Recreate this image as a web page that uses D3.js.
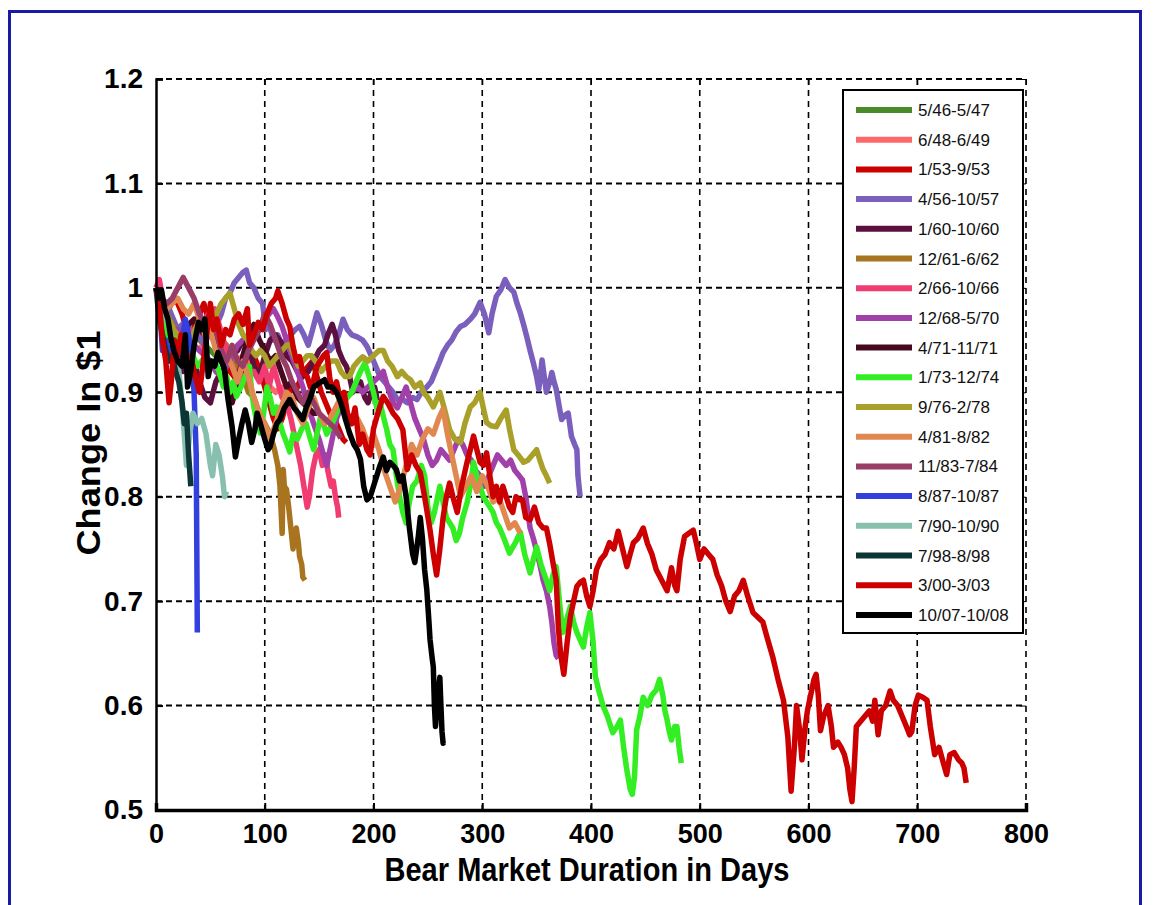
<!DOCTYPE html>
<html>
<head>
<meta charset="utf-8">
<script src="https://cdn.jsdelivr.net/npm/d3@7"></script>
<style>
  body { margin: 0; background: #fff; }
  text { font-family: "Liberation Sans", Arial, sans-serif; }
</style>
</head>
<body>
<div id="chart"></div>
<script>
// legend labels + colours, in plot order (last one drawn on top)
const labels = ['5/46-5/47', '6/48-6/49', '1/53-9/53', '4/56-10/57', '1/60-10/60', '12/61-6/62',
  '2/66-10/66', '12/68-5/70', '4/71-11/71', '1/73-12/74', '9/76-2/78', '4/81-8/82',
  '11/83-7/84', '8/87-10/87', '7/90-10/90', '7/98-8/98', '3/00-3/03', '10/07-10/08'];
const colors = ['#4a8a28', '#ff6868', '#cc0000', '#7b5fbd', '#5c1040', '#a87420',
  '#f03c70', '#a040a8', '#480820', '#33ee22', '#a8a028', '#e08850',
  '#983c68', '#3340e0', '#88c0b0', '#0c3535', '#cc0000', '#000000'];

const xTicks = [0, 100, 200, 300, 400, 500, 600, 700, 800];
const yTicks = [0.5, 0.6, 0.7, 0.8, 0.9, 1, 1.1, 1.2];

// [day, value of $1]
const s5_46 = [[0,1.0],[4,0.99],[8,0.98],[12,0.975],[16,0.965],[20,0.96],[25,0.955],[30,0.95],[35,0.955],[40,0.95],[45,0.945],[50,0.94],[55,0.935],[60,0.94],[65,0.935],[70,0.93],[75,0.925],[80,0.93],[85,0.925],[90,0.92],[95,0.915],[100,0.92]];
const s6_48 = [[0,1.0],[3,1.005],[6,0.985],[10,0.97],[15,0.96],[20,0.95],[25,0.96],[30,0.955],[35,0.945],[40,0.94],[45,0.95],[50,0.955],[55,0.945],[60,0.93],[65,0.92],[70,0.925],[75,0.93],[80,0.935],[85,0.93],[90,0.925],[95,0.92],[100,0.91],[105,0.905],[110,0.9],[115,0.905],[120,0.9]];
const s1_53 = [[0,1.0],[4,0.985],[8,0.975],[12,0.98],[16,0.99],[20,0.985],[24,0.975],[28,0.96],[32,0.955],[36,0.965],[40,0.975],[44,0.985],[48,0.97],[52,0.96],[56,0.945],[60,0.935],[64,0.93],[68,0.92],[72,0.915],[76,0.91],[80,0.925],[84,0.935],[88,0.94],[92,0.93],[96,0.92],[100,0.905],[104,0.89],[108,0.875],[112,0.865],[116,0.875],[120,0.89],[124,0.905],[128,0.9],[132,0.91],[136,0.92],[140,0.925],[144,0.93],[148,0.915],[152,0.9],[156,0.89],[160,0.88],[164,0.875],[168,0.865],[172,0.855],[175,0.852]];
const s4_56 = [[0,1.0],[4,0.99],[8,0.975],[12,0.98],[16,0.97],[20,0.96],[24,0.965],[28,0.955],[32,0.96],[36,0.95],[40,0.955],[44,0.945],[48,0.955],[52,0.96],[56,0.965],[60,0.975],[64,0.99],[68,0.995],[72,1.005],[76,1.01],[80,1.015],[83,1.017],[86,1.005],[90,1.0],[94,0.99],[98,0.985],[101,0.96],[104,0.965],[108,0.95],[112,0.955],[116,0.945],[120,0.95],[124,0.955],[128,0.96],[132,0.963],[136,0.955],[140,0.945],[144,0.96],[148,0.976],[152,0.965],[156,0.95],[160,0.94],[164,0.945],[168,0.955],[172,0.97],[176,0.96],[180,0.955],[185,0.953],[190,0.95],[194,0.944],[198,0.935],[202,0.925],[206,0.915],[210,0.91],[214,0.905],[218,0.9],[222,0.893],[227,0.893],[231,0.89],[236,0.895],[240,0.893],[244,0.9],[249,0.905],[253,0.91],[257,0.92],[261,0.93],[264,0.938],[268,0.945],[272,0.95],[276,0.958],[280,0.963],[284,0.965],[289,0.97],[293,0.975],[298,0.986],[302,0.975],[306,0.957],[309,0.975],[313,0.992],[317,0.998],[321,1.008],[325,1.0],[329,0.996],[332,0.985],[335,0.976],[338,0.965],[341,0.953],[344,0.94],[347,0.928],[350,0.915],[352,0.903],[355,0.931],[357,0.915],[359,0.9],[362,0.91],[364,0.919],[366,0.91],[368,0.903],[371,0.885],[373,0.874],[376,0.878],[379,0.88],[382,0.858],[385,0.85],[387,0.845],[388,0.82],[390,0.8]];
const s1_60 = [[0,1.0],[4,0.985],[8,0.97],[12,0.96],[16,0.95],[20,0.935],[25,0.92],[30,0.935],[35,0.93],[40,0.91],[45,0.895],[50,0.89],[55,0.91],[60,0.92],[65,0.925],[70,0.935],[75,0.94],[80,0.95],[85,0.945],[90,0.925],[95,0.915],[100,0.935],[105,0.95],[110,0.955],[115,0.948],[120,0.935],[125,0.93],[130,0.92],[135,0.915],[140,0.92],[145,0.93],[150,0.94],[155,0.945],[158,0.955],[162,0.965],[165,0.955],[168,0.94],[172,0.93],[175,0.925],[178,0.915],[181,0.9],[185,0.905],[188,0.91],[192,0.895],[195,0.89],[198,0.9],[201,0.905],[204,0.89],[206,0.88]];
const s12_61 = [[0,1.0],[5,0.985],[10,0.975],[15,0.965],[20,0.955],[25,0.96],[30,0.95],[35,0.955],[40,0.96],[45,0.955],[50,0.965],[55,0.96],[60,0.95],[65,0.945],[70,0.93],[75,0.92],[80,0.915],[85,0.9],[90,0.895],[95,0.88],[100,0.87],[105,0.86],[109,0.845],[112,0.83],[114,0.81],[116,0.765],[117,0.826],[118,0.81],[120,0.807],[122,0.79],[123,0.78],[125,0.76],[126,0.75],[128,0.765],[129,0.77],[131,0.755],[132,0.743],[134,0.735],[135,0.723],[137,0.72]];
const s2_66 = [[0,1.0],[3,1.008],[6,0.99],[10,0.97],[14,0.955],[18,0.94],[22,0.945],[26,0.95],[30,0.955],[35,0.96],[40,0.965],[45,0.97],[50,0.978],[54,0.98],[58,0.965],[62,0.95],[66,0.935],[70,0.925],[75,0.915],[80,0.91],[85,0.915],[90,0.92],[95,0.91],[100,0.925],[104,0.905],[108,0.925],[112,0.91],[116,0.895],[120,0.89],[124,0.875],[127,0.86],[130,0.845],[133,0.83],[136,0.81],[139,0.79],[141,0.8],[144,0.825],[147,0.84],[150,0.845],[153,0.83],[156,0.84],[158,0.825],[161,0.81],[163,0.815],[165,0.8],[167,0.79],[168,0.78]];
const s12_68 = [[0,1.0],[4,0.99],[8,0.975],[12,0.965],[16,0.955],[20,0.96],[25,0.95],[30,0.955],[35,0.945],[40,0.94],[45,0.935],[50,0.93],[55,0.92],[60,0.915],[65,0.925],[70,0.935],[75,0.945],[80,0.95],[85,0.955],[90,0.96],[95,0.965],[100,0.97],[104,0.975],[108,0.98],[112,0.972],[116,0.963],[120,0.95],[125,0.935],[130,0.92],[135,0.905],[140,0.885],[145,0.87],[150,0.855],[154,0.84],[157,0.83],[160,0.845],[163,0.86],[166,0.875],[170,0.885],[175,0.895],[180,0.9],[185,0.905],[190,0.9],[195,0.905],[200,0.91],[205,0.915],[209,0.92],[213,0.905],[218,0.89],[222,0.885],[226,0.895],[230,0.905],[234,0.89],[238,0.875],[242,0.865],[246,0.855],[250,0.84],[254,0.83],[258,0.835],[262,0.845],[266,0.84],[270,0.835],[274,0.845],[278,0.855],[282,0.85],[286,0.84],[290,0.835],[294,0.825],[298,0.82],[302,0.81],[306,0.82],[310,0.83],[314,0.84],[318,0.835],[322,0.83],[326,0.835],[330,0.825],[334,0.82],[337,0.816],[340,0.8],[344,0.77],[347,0.76],[350,0.748],[353,0.735],[356,0.72],[359,0.71],[362,0.695],[364,0.68],[366,0.66],[368,0.648],[370,0.645]];
const s4_71 = [[0,1.0],[5,0.99],[10,0.975],[15,0.96],[20,0.95],[25,0.955],[30,0.965],[35,0.97],[40,0.96],[45,0.955],[50,0.96],[55,0.95],[60,0.935],[65,0.91],[70,0.89],[75,0.91],[80,0.935],[85,0.955],[90,0.965],[95,0.95],[100,0.94],[105,0.93],[110,0.935],[115,0.92],[120,0.905],[125,0.91],[130,0.895],[135,0.89],[140,0.885],[145,0.88],[148,0.88]];
const s1_73 = [[0,1.0],[4,0.985],[8,0.97],[11,0.95],[14,0.96],[18,0.955],[22,0.945],[26,0.94],[30,0.93],[34,0.935],[38,0.925],[42,0.93],[46,0.935],[50,0.925],[54,0.93],[58,0.92],[62,0.905],[65,0.915],[68,0.9],[71,0.91],[74,0.896],[78,0.905],[82,0.915],[86,0.925],[88,0.9],[90,0.886],[93,0.87],[96,0.861],[99,0.88],[102,0.905],[105,0.895],[108,0.88],[111,0.886],[114,0.87],[117,0.86],[120,0.852],[123,0.843],[126,0.86],[130,0.855],[134,0.865],[138,0.87],[142,0.855],[145,0.845],[148,0.86],[151,0.875],[154,0.87],[157,0.86],[160,0.865],[164,0.875],[168,0.885],[172,0.89],[176,0.895],[180,0.9],[184,0.91],[188,0.92],[192,0.928],[196,0.915],[200,0.9],[203,0.885],[206,0.89],[209,0.877],[212,0.865],[215,0.85],[218,0.845],[221,0.82],[224,0.8],[227,0.785],[230,0.775],[233,0.795],[236,0.81],[240,0.815],[244,0.83],[247,0.82],[250,0.79],[253,0.775],[256,0.785],[259,0.8],[261,0.81],[264,0.795],[267,0.78],[270,0.775],[273,0.77],[276,0.758],[279,0.765],[282,0.78],[286,0.794],[289,0.81],[292,0.833],[295,0.82],[298,0.81],[301,0.8],[304,0.795],[307,0.79],[310,0.785],[313,0.775],[316,0.77],[320,0.76],[325,0.746],[330,0.755],[335,0.766],[339,0.745],[344,0.727],[347,0.74],[350,0.752],[354,0.735],[359,0.72],[362,0.71],[365,0.725],[368,0.733],[371,0.7],[374,0.67],[377,0.68],[381,0.695],[384,0.68],[387,0.67],[390,0.663],[393,0.656],[396,0.675],[399,0.689],[402,0.66],[404,0.628],[407,0.615],[411,0.6],[415,0.59],[420,0.574],[424,0.58],[427,0.586],[430,0.56],[433,0.538],[436,0.52],[438,0.515],[440,0.532],[442,0.577],[445,0.59],[448,0.608],[452,0.6],[456,0.61],[460,0.615],[463,0.625],[466,0.61],[468,0.595],[470,0.586],[472,0.575],[474,0.567],[477,0.58],[479,0.58],[481,0.56],[483,0.545]];
const s9_76 = [[0,1.0],[4,0.99],[8,0.98],[12,0.97],[16,0.96],[20,0.955],[24,0.95],[28,0.955],[32,0.95],[36,0.96],[40,0.97],[44,0.965],[48,0.96],[52,0.97],[56,0.976],[60,0.985],[64,0.99],[68,0.995],[72,0.98],[76,0.965],[80,0.955],[84,0.95],[88,0.94],[92,0.935],[96,0.94],[100,0.935],[104,0.925],[108,0.93],[112,0.935],[116,0.94],[120,0.945],[123,0.946],[127,0.935],[131,0.925],[135,0.93],[139,0.935],[143,0.935],[148,0.928],[152,0.92],[156,0.925],[161,0.93],[166,0.93],[170,0.92],[174,0.915],[178,0.915],[182,0.925],[186,0.93],[190,0.934],[195,0.93],[200,0.935],[205,0.94],[209,0.94],[213,0.93],[217,0.925],[222,0.915],[226,0.92],[230,0.915],[234,0.912],[238,0.905],[243,0.909],[246,0.9],[250,0.895],[255,0.886],[258,0.893],[261,0.9],[265,0.885],[270,0.864],[275,0.855],[280,0.852],[284,0.87],[289,0.886],[293,0.89],[298,0.9],[301,0.885],[304,0.871],[308,0.868],[313,0.867],[317,0.875],[322,0.883],[325,0.865],[329,0.845],[333,0.84],[338,0.833],[342,0.835],[346,0.84],[350,0.845],[353,0.835],[356,0.826],[359,0.82],[362,0.813]];
const s4_81 = [[0,1.0],[5,0.99],[10,0.98],[15,0.985],[20,0.99],[25,0.98],[30,0.975],[35,0.985],[40,0.97],[45,0.955],[50,0.96],[55,0.94],[60,0.93],[65,0.935],[70,0.925],[75,0.91],[80,0.93],[85,0.915],[90,0.895],[95,0.88],[100,0.87],[105,0.855],[110,0.87],[115,0.885],[120,0.9],[125,0.895],[130,0.88],[135,0.87],[140,0.885],[145,0.895],[150,0.88],[155,0.87],[160,0.875],[165,0.885],[170,0.895],[175,0.88],[180,0.87],[185,0.875],[190,0.865],[195,0.85],[200,0.86],[205,0.845],[210,0.825],[215,0.81],[220,0.795],[225,0.81],[230,0.83],[235,0.85],[240,0.84],[245,0.855],[250,0.865],[255,0.86],[260,0.875],[264,0.884],[268,0.86],[272,0.84],[276,0.82],[280,0.8],[285,0.81],[290,0.82],[295,0.805],[300,0.82],[305,0.81],[310,0.795],[315,0.8],[320,0.785],[325,0.77],[330,0.775],[335,0.765]];
const s11_83 = [[0,1.0],[5,0.99],[10,0.985],[15,0.99],[20,1.0],[25,1.01],[30,1.0],[35,0.99],[40,0.975],[45,0.965],[50,0.975],[55,0.96],[60,0.94],[65,0.93],[70,0.945],[75,0.93],[80,0.925],[85,0.94],[90,0.95],[95,0.96],[100,0.975],[105,0.965],[110,0.95],[115,0.935],[120,0.925],[125,0.91],[130,0.9],[135,0.89],[140,0.9],[145,0.89],[150,0.88],[155,0.875],[160,0.87],[165,0.865],[170,0.856]];
const s8_87 = [[0,1.0],[3,0.985],[6,0.94],[9,0.95],[12,0.93],[15,0.945],[18,0.92],[21,0.935],[24,0.95],[27,0.97],[30,0.955],[33,0.93],[35,0.9],[37,0.84],[38,0.67]];
const s7_90 = [[0,1.0],[5,0.985],[10,0.97],[15,0.95],[20,0.93],[23,0.9],[26,0.86],[28,0.83],[31,0.86],[34,0.88],[38,0.87],[42,0.875],[46,0.86],[50,0.83],[52,0.82],[55,0.85],[58,0.84],[61,0.82],[63,0.8],[65,0.805]];
const s7_98 = [[0,1.0],[3,0.97],[6,0.955],[9,0.94],[12,0.93],[15,0.935],[18,0.92],[21,0.91],[24,0.89],[26,0.87],[28,0.88],[30,0.84],[32,0.81]];
const s3_00 = [[0,1.0],[3,0.985],[6,0.95],[9,0.93],[12,0.89],[14,0.91],[17,0.95],[20,0.935],[23,0.955],[26,0.94],[29,0.925],[32,0.935],[36,0.915],[40,0.9],[43,0.925],[46,0.95],[50,0.985],[53,0.96],[56,0.97],[60,0.945],[64,0.96],[68,0.955],[72,0.97],[76,0.975],[80,0.965],[84,0.98],[86,0.945],[90,0.955],[94,0.967],[98,0.96],[102,0.975],[106,0.985],[110,0.99],[112,0.997],[116,0.985],[120,0.97],[123,0.963],[126,0.944],[129,0.93],[132,0.934],[135,0.919],[139,0.915],[142,0.905],[145,0.912],[148,0.925],[151,0.93],[154,0.935],[157,0.938],[160,0.912],[163,0.9],[166,0.91],[170,0.89],[173,0.9],[176,0.88],[180,0.87],[183,0.885],[187,0.85],[190,0.86],[194,0.845],[197,0.84],[200,0.865],[204,0.88],[209,0.896],[213,0.89],[218,0.88],[222,0.875],[227,0.864],[231,0.826],[235,0.84],[239,0.83],[243,0.823],[247,0.8],[252,0.768],[255,0.745],[258,0.725],[261,0.75],[264,0.78],[267,0.8],[270,0.813],[273,0.8],[277,0.785],[281,0.81],[286,0.833],[289,0.845],[292,0.858],[295,0.845],[298,0.833],[301,0.83],[304,0.842],[307,0.82],[310,0.8],[313,0.81],[316,0.795],[319,0.81],[322,0.8],[325,0.79],[328,0.785],[331,0.8],[334,0.797],[337,0.797],[340,0.78],[344,0.778],[348,0.79],[352,0.775],[356,0.77],[359,0.77],[362,0.755],[365,0.737],[368,0.72],[370,0.675],[372,0.65],[375,0.63],[378,0.66],[381,0.685],[384,0.7],[387,0.714],[390,0.718],[393,0.72],[396,0.705],[399,0.695],[402,0.71],[405,0.73],[409,0.74],[413,0.745],[417,0.756],[421,0.75],[425,0.767],[429,0.75],[433,0.733],[436,0.745],[439,0.756],[443,0.76],[448,0.77],[452,0.755],[456,0.745],[460,0.73],[465,0.72],[470,0.71],[474,0.732],[477,0.715],[479,0.71],[482,0.74],[486,0.762],[490,0.765],[494,0.768],[497,0.755],[500,0.74],[504,0.75],[508,0.745],[512,0.74],[516,0.725],[520,0.715],[524,0.7],[528,0.69],[532,0.705],[536,0.71],[540,0.72],[544,0.705],[549,0.689],[553,0.685],[558,0.68],[562,0.665],[567,0.647],[572,0.625],[577,0.605],[581,0.57],[584,0.518],[587,0.56],[589,0.6],[592,0.575],[594,0.548],[597,0.58],[599,0.595],[602,0.61],[605,0.625],[607,0.63],[609,0.61],[611,0.576],[614,0.59],[618,0.6],[621,0.58],[623,0.56],[627,0.565],[630,0.56],[633,0.553],[636,0.54],[638,0.52],[640,0.508],[642,0.54],[644,0.58],[648,0.585],[652,0.59],[656,0.595],[659,0.585],[661,0.605],[664,0.572],[667,0.595],[671,0.6],[675,0.614],[678,0.605],[682,0.6],[686,0.59],[690,0.58],[693,0.572],[695,0.575],[698,0.6],[701,0.61],[705,0.608],[709,0.605],[712,0.58],[716,0.553],[720,0.56],[724,0.545],[727,0.534],[730,0.553],[734,0.555],[738,0.548],[741,0.545],[743,0.54],[745,0.526]];
const s10_07 = [[0,1.0],[3,0.99],[5,0.998],[8,0.98],[11,0.97],[14,0.95],[17,0.938],[20,0.93],[24,0.925],[27,0.955],[29,0.905],[32,0.92],[35,0.945],[39,0.967],[42,0.96],[45,0.97],[48,0.915],[51,0.93],[54,0.925],[57,0.938],[60,0.93],[63,0.922],[66,0.895],[70,0.867],[73,0.838],[76,0.855],[79,0.87],[82,0.883],[85,0.87],[88,0.852],[91,0.865],[93,0.88],[96,0.87],[100,0.855],[103,0.845],[105,0.848],[108,0.86],[111,0.87],[114,0.874],[118,0.885],[123,0.893],[127,0.885],[131,0.88],[135,0.874],[138,0.885],[142,0.895],[145,0.905],[149,0.908],[152,0.91],[155,0.912],[158,0.905],[162,0.905],[166,0.9],[170,0.89],[174,0.875],[178,0.861],[182,0.85],[185,0.845],[188,0.836],[191,0.81],[194,0.797],[197,0.8],[200,0.81],[203,0.82],[206,0.83],[209,0.838],[212,0.825],[215,0.833],[218,0.83],[221,0.826],[224,0.815],[227,0.82],[230,0.8],[233,0.77],[236,0.745],[238,0.737],[241,0.76],[243,0.78],[245,0.76],[247,0.73],[249,0.711],[251,0.68],[252,0.663],[254,0.645],[255,0.637],[256,0.6],[257,0.58],[258,0.595],[259,0.61],[261,0.627],[262,0.6],[263,0.575],[264,0.564],[265,0.565]];

const series = [s5_46, s6_48, s1_53, s4_56, s1_60, s12_61, s2_66, s12_68, s4_71,
  s1_73, s9_76, s4_81, s11_83, s8_87, s7_90, s7_98, s3_00, s10_07];

const W = 1154, H = 905;
const plot = { left: 156, right: 1026, top: 79, bottom: 810 };

const svg = d3.select('#chart').append('svg')
  .attr('width', W)
  .attr('height', H)
  .style('display', 'block');

svg.append('rect').attr('width', W).attr('height', H).attr('fill', '#fff');

// outer blue frame
svg.append('rect')
  .attr('x', 9.5).attr('y', 11.5)
  .attr('width', 1131).attr('height', 940)
  .attr('fill', 'none')
  .attr('stroke', '#1a1aa8')
  .attr('stroke-width', 3);

let x = d3.scaleLinear().domain([0, 800]).range([plot.left, plot.right]);
let y = d3.scaleLinear().domain([0.5, 1.2]).range([plot.bottom, plot.top]);

// dashed grid (also makes the top/right border)
let grid = svg.append('g').attr('class', 'grid');
grid.selectAll('.hg')
  .data(yTicks.filter(d => d > 0.5))
  .enter().append('line')
  .attr('x1', plot.left).attr('x2', plot.right)
  .attr('y1', d => y(d)).attr('y2', d => y(d))
  .attr('stroke', '#000').attr('stroke-width', 2)
  .attr('stroke-dasharray', '6,4');
grid.selectAll('.vg')
  .data(xTicks.filter(d => d > 0))
  .enter().append('line')
  .attr('y1', plot.top).attr('y2', plot.bottom)
  .attr('x1', d => x(d)).attr('x2', d => x(d))
  .attr('stroke', '#000').attr('stroke-width', 1.6)
  .attr('stroke-dasharray', '6,5');

// small inward ticks on right and top
svg.append('g')
  .attr('transform', `translate(${plot.right},0)`)
  .call(d3.axisRight(y).tickValues(yTicks).tickSize(-6).tickFormat(''))
  .call(g => g.select('.domain').remove());
svg.append('g')
  .attr('transform', `translate(0,${plot.top})`)
  .call(d3.axisTop(x).tickValues(xTicks).tickSize(-6).tickFormat(''))
  .call(g => g.select('.domain').remove());

// the bear market lines
let line = d3.line()
  .x(d => x(d[0]))
  .y(d => y(d[1]));

svg.append('g')
  .selectAll('path')
  .data(series)
  .enter().append('path')
  .attr('d', line)
  .attr('fill', 'none')
  .attr('stroke', (d, i) => colors[i])
  .attr('stroke-width', 5.5)
  .attr('stroke-linejoin', 'round');

// left + bottom axes
let yAxis = d3.axisLeft(y)
  .tickValues(yTicks)
  .tickSize(-7)
  .tickPadding(13)
  .tickFormat(d => d3.format('')(+d.toFixed(1)));
svg.append('g')
  .attr('transform', `translate(${plot.left},0)`)
  .call(yAxis)
  .call(g => g.select('.domain').attr('stroke-width', 2.5))
  .call(g => g.selectAll('.tick line').attr('stroke-width', 2))
  .call(g => g.selectAll('text')
    .attr('font-size', 28).attr('font-weight', 'bold').attr('fill', '#000'));

let xAxis = d3.axisBottom(x)
  .tickValues(xTicks)
  .tickSize(-7)
  .tickPadding(14);
svg.append('g')
  .attr('transform', `translate(0,${plot.bottom})`)
  .call(xAxis)
  .call(g => g.select('.domain').attr('stroke-width', 3.5))
  .call(g => g.selectAll('.tick line').attr('stroke-width', 2))
  .call(g => g.selectAll('text')
    .attr('font-size', 27).attr('font-weight', 'bold').attr('fill', '#000'));

// axis titles (squeezed like the original)
svg.append('text')
  .attr('x', 587).attr('y', 881)
  .attr('text-anchor', 'middle')
  .attr('font-size', 34).attr('font-weight', 'bold')
  .attr('textLength', 405).attr('lengthAdjust', 'spacingAndGlyphs')
  .text('Bear Market Duration in Days');

svg.append('text')
  .attr('transform', 'translate(100,443) rotate(-90)')
  .attr('text-anchor', 'middle')
  .attr('font-size', 34).attr('font-weight', 'bold')
  .attr('textLength', 225).attr('lengthAdjust', 'spacingAndGlyphs')
  .text('Change In $1');

// legend
let legend = svg.append('g').attr('transform', 'translate(843,90)');
legend.append('rect')
  .attr('width', 180).attr('height', 543)
  .attr('fill', '#fff')
  .attr('stroke', '#000').attr('stroke-width', 2);

let rows = legend.selectAll('.row')
  .data(labels)
  .enter().append('g')
  .attr('transform', (d, i) => `translate(0,${20 + i * 29.7})`);
rows.append('line')
  .attr('x1', 13).attr('x2', 69)
  .attr('stroke', (d, i) => colors[i])
  .attr('stroke-width', 6);
rows.append('text')
  .attr('x', 75).attr('y', 6)
  .attr('font-size', 17)
  .attr('fill', '#111')
  .text(d => d);
</script>
</body>
</html>
